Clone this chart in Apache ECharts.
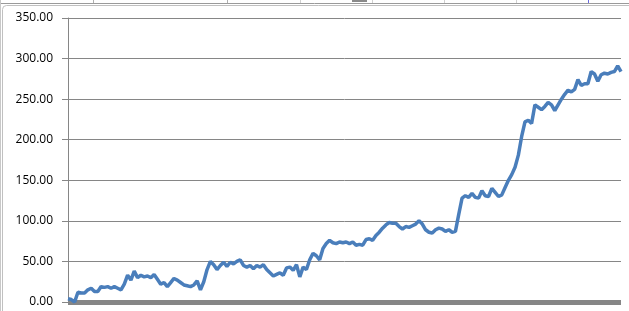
<!DOCTYPE html>
<html>
<head>
<meta charset="utf-8">
<script src="https://cdn.jsdelivr.net/npm/echarts@6/dist/echarts.min.js"></script>
<style>
html,body{margin:0;padding:0;background:#fff;}
#c{width:629px;height:311px;}
</style>
</head>
<body>
<div id="c"></div>
<script>
const yTicks = [0, 50, 100, 150, 200, 250, 300, 350];
const values = [
  4, 3, 0, 12, 11, 11, 15, 17, 13, 13,
  19, 18, 19, 17, 19, 17, 15, 22, 33, 27,
  38, 30, 33, 31, 32, 30, 34, 28, 22, 24, 19,
  24, 29, 27, 24, 21, 20, 19, 21, 26, 15,
  25, 40, 50, 46, 40, 45, 49, 44, 49, 47,
  50, 52, 45, 43, 45, 41, 45, 43, 46, 40,
  36, 32, 34, 36, 33, 42, 43, 39, 46, 31,
  43, 40, 52, 60, 57, 52, 66, 72, 76, 73,
  72, 74, 73, 74, 72, 74, 70, 71, 70, 77,
  78, 76, 82, 86, 91, 95, 98, 97, 97, 93,
  90, 93, 92, 94, 96, 100, 96, 89, 86, 85,
  89, 91, 90, 87, 89, 86, 87, 108, 128, 131,
  129, 134, 129, 128, 137, 131, 130, 140, 135, 130,
  132, 141, 150, 157, 166, 181, 204, 222, 224, 220,
  243, 240, 237, 241, 246, 243, 236, 243, 250, 256,
  261, 259, 262, 274, 267, 269, 269, 284, 281, 272,
  280, 282, 281, 283, 284, 291, 284
];
const categories = values.map((v, i) => String(i + 1));

const chart = echarts.init(document.getElementById('c'), null, {renderer: 'canvas'});
const gray = '#868686';
chart.setOption({
  animation: false,
  backgroundColor: '#ffffff',
  grid: {left: 68, right: 8, top: 18, bottom: 9, containLabel: false},
  xAxis: {
    type: 'category',
    data: categories,
    boundaryGap: false,
    offset: 2,
    axisLine: {show: true, lineStyle: {color: gray, width: 5, cap: 'butt'}},
    axisTick: {show: false},
    axisLabel: {show: false},
    splitLine: {show: false}
  },
  yAxis: {
    type: 'value',
    min: yTicks[0],
    max: yTicks[yTicks.length - 1],
    interval: 50,
    axisLine: {show: true, lineStyle: {color: gray, width: 1}},
    axisTick: {show: true, length: 6, lineStyle: {color: gray, width: 1}},
    axisLabel: {
      margin: 15,
      color: '#000000',
      fontFamily: 'Open Sans, Liberation Sans, sans-serif',
      fontSize: 12,
      formatter: v => v.toFixed(2)
    },
    splitLine: {show: true, lineStyle: {color: gray, width: 1}}
  },
  series: [{
    type: 'line',
    data: values,
    showSymbol: false,
    symbol: 'none',
    lineStyle: {color: '#4A7EBB', width: 3.5},
    z: 5
  }],
  graphic: [
    {type: 'line', shape: {x1: 0, y1: 3.5, x2: 629, y2: 3.5}, style: {stroke: '#9a9a9a', lineWidth: 1}, silent: true},
    {type: 'line', shape: {x1: 93.5, y1: 0, x2: 93.5, y2: 3}, style: {stroke: '#b0b0b0', lineWidth: 1}, silent: true},
    {type: 'line', shape: {x1: 227.5, y1: 0, x2: 227.5, y2: 3}, style: {stroke: '#b0b0b0', lineWidth: 1}, silent: true},
    {type: 'line', shape: {x1: 300.5, y1: 0, x2: 300.5, y2: 3}, style: {stroke: '#d0d0d0', lineWidth: 1}, silent: true},
    {type: 'line', shape: {x1: 372.5, y1: 0, x2: 372.5, y2: 3}, style: {stroke: '#d0d0d0', lineWidth: 1}, silent: true},
    {type: 'line', shape: {x1: 444.5, y1: 0, x2: 444.5, y2: 3}, style: {stroke: '#d0d0d0', lineWidth: 1}, silent: true},
    {type: 'line', shape: {x1: 516.5, y1: 0, x2: 516.5, y2: 3}, style: {stroke: '#d0d0d0', lineWidth: 1}, silent: true},
    {type: 'line', shape: {x1: 588.5, y1: 0, x2: 588.5, y2: 3}, style: {stroke: '#6a6ae0', lineWidth: 1}, silent: true},
    {type: 'rect', shape: {x: 352, y: 0, width: 15, height: 2}, style: {fill: '#8a8a8a'}, silent: true},
    {type: 'line', shape: {x1: 0.5, y1: 0, x2: 0.5, y2: 311}, style: {stroke: '#c8c8c8', lineWidth: 1}, silent: true},
    {type: 'rect', shape: {x: 2.5, y: 5.5, width: 640, height: 320, r: 4}, style: {fill: 'none', stroke: '#c0c0c0', lineWidth: 1}, silent: true}
  ]
});
</script>
</body>
</html>
